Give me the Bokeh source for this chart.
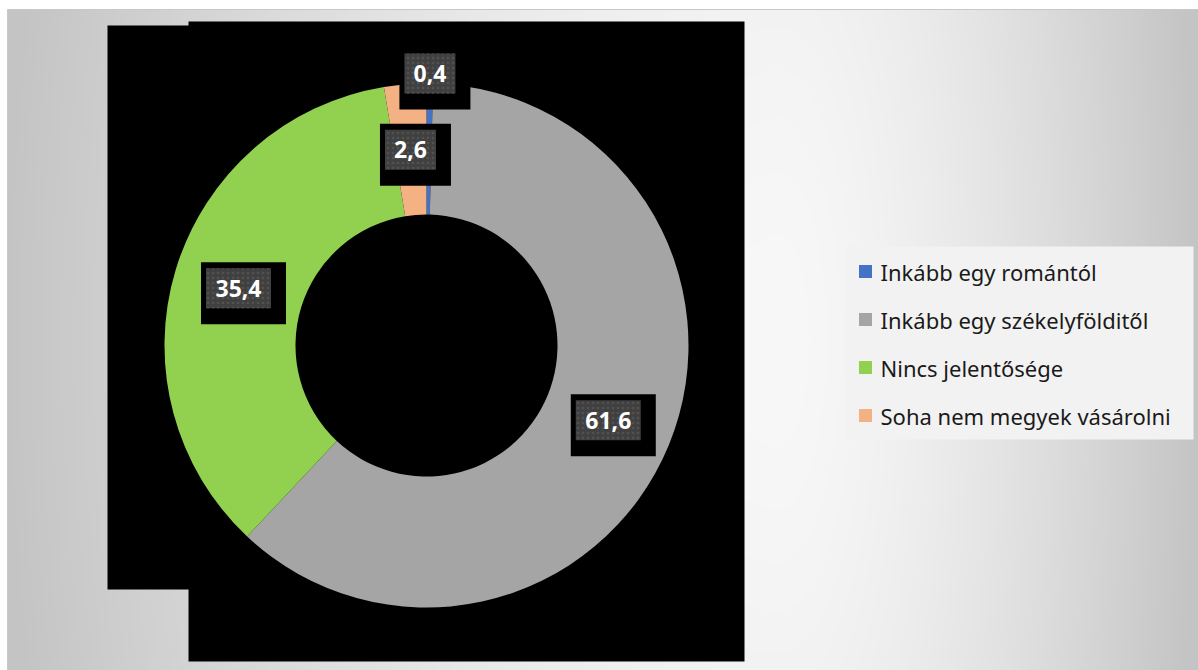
import numpy as np
from bokeh.plotting import figure
from bokeh.models import Range1d, ColumnDataSource
from bokeh.core.properties import value
from bokeh.embed import file_html
from bokeh.resources import INLINE

# ---- data -------------------------------------------------------------
categories = [
    "Inkább egy romántól",
    "Inkább egy székelyfölditől",
    "Nincs jelentősége",
    "Soha nem megyek vásárolni",
]
shares = [0.4, 61.6, 35.4, 2.6]
value_labels = ["0,4", "61,6", "35,4", "2,6"]
colors = ["#4472C4", "#A5A5A5", "#92D050", "#F4B183"]

# ---- canvas ------------------------------------------------------------
W, H = 1198, 670


def Y(ypix):
    """Convert a top-down pixel row to the plot's bottom-up data y."""
    return H - ypix


p = figure(
    width=W, height=H,
    x_range=Range1d(0, W), y_range=Range1d(0, H),
    x_axis_type=None, y_axis_type=None,
    output_backend="svg", toolbar_location=None, min_border=0,
)
p.grid.visible = False
p.outline_line_color = None
p.background_fill_color = "white"
p.border_fill_color = "white"

# ---- chart-area background: soft light band fading to grey at the sides
ax0, ay0 = 7, 9
aw, ah = W - ax0, H - ay0
step = 2
nx, ny = int(np.ceil(aw / step)), int(np.ceil(ah / step))
px = ax0 + (np.arange(nx) + 0.5) * step
py = H - (np.arange(ny) + 0.5) * step          # row 0 sits at the bottom
gx, gy = np.meshgrid(px, py)
ccx, ccy = 780.0, 340.0
dx = np.where(gx < ccx, (gx - ccx) / 780.0, (gx - ccx) / 420.0)
dy = (gy - ccy) / 1500.0
d = np.clip(np.sqrt(dx ** 2 + dy ** 2), 0, 1)
v = np.clip(248 - 52 * d ** 1.5, 0, 255).astype(np.uint8)
img = np.empty((ny, nx), dtype=np.uint32)
view = img.view(dtype=np.uint8).reshape((ny, nx, 4))
view[..., 0] = v
view[..., 1] = v
view[..., 2] = v
view[..., 3] = 255
p.image_rgba(image=[img], x=ax0, y=0, dw=aw, dh=ah)

# chart-area frame
p.segment(x0=[ax0, ax0], y0=[Y(ay0), Y(ay0)], x1=[W, ax0], y1=[Y(ay0), 0],
          line_color="#c8c8c8", line_width=1)

# dark backdrop behind the plot area, drawn as one stepped outline
bx = [107, 188, 188, 744, 744, 188, 188, 107]
by = [Y(25), Y(25), Y(21), Y(21), Y(661), Y(661), Y(589), Y(589)]
p.patch(x=bx, y=by, fill_color="black", line_color=None)

# ---- doughnut ----------------------------------------------------------
cx, cy = 426, Y(345)
r_in, r_out = 131, 262
vals = np.array(shares, dtype=float)
total = vals.sum()
cum = np.concatenate([[0.0], np.cumsum(vals)])
start = np.pi / 2 - 2 * np.pi * cum[:-1] / total
end = np.pi / 2 - 2 * np.pi * cum[1:] / total

wedges = ColumnDataSource(dict(start=start, end=end, color=colors))
p.annular_wedge(x=cx, y=cy, inner_radius=r_in, outer_radius=r_out,
                start_angle="start", end_angle="end", direction="clock",
                fill_color="color", line_color=None, source=wedges)

# ---- data labels -------------------------------------------------------
mid = (start + end) / 2
r_lab = np.where(vals < 1, r_out + 10, (r_in + r_out) / 2)
lx = cx + r_lab * np.cos(mid)
ly = cy + r_lab * np.sin(mid)
box_w = np.array([14 * len(s) + 9 for s in value_labels], dtype=float)

labels = ColumnDataSource(dict(x=lx, y=ly, sx=lx + 5, sy=ly - 5,
                               w=box_w, sw=box_w + 20, text=value_labels))
p.rect(x="sx", y="sy", width="sw", height=62, fill_color="black",
       line_color=None, source=labels)
p.rect(x="x", y="y", width="w", height=40, fill_color="#404040",
       hatch_pattern="dot", hatch_color="#525252", hatch_scale=5,
       hatch_weight=1, line_color=None, source=labels)
p.text(x="x", y="y", text="text", source=labels, text_align="center",
       text_baseline="middle", text_font=value("Noto Sans"),
       text_font_style="bold", text_font_size="23px", text_color="white")

# ---- legend ------------------------------------------------------------
p.quad(left=[845], right=[1193], top=[Y(246)], bottom=[Y(439)],
       fill_color="#f2f2f2", line_color=None)
rows = [Y(271 + 48 * i) for i in range(len(categories))]
leg = ColumnDataSource(dict(y=rows, text=categories, color=colors))
p.rect(x=865, y="y", width=13, height=13, fill_color="color",
       line_color=None, source=leg)
p.text(x=880, y="y", text="text", source=leg, text_align="left",
       text_baseline="middle", text_font=value("Noto Sans"),
       text_font_size="22px", text_color="#1a1a1a")

open("out.html", "w").write(file_html(p, INLINE))
